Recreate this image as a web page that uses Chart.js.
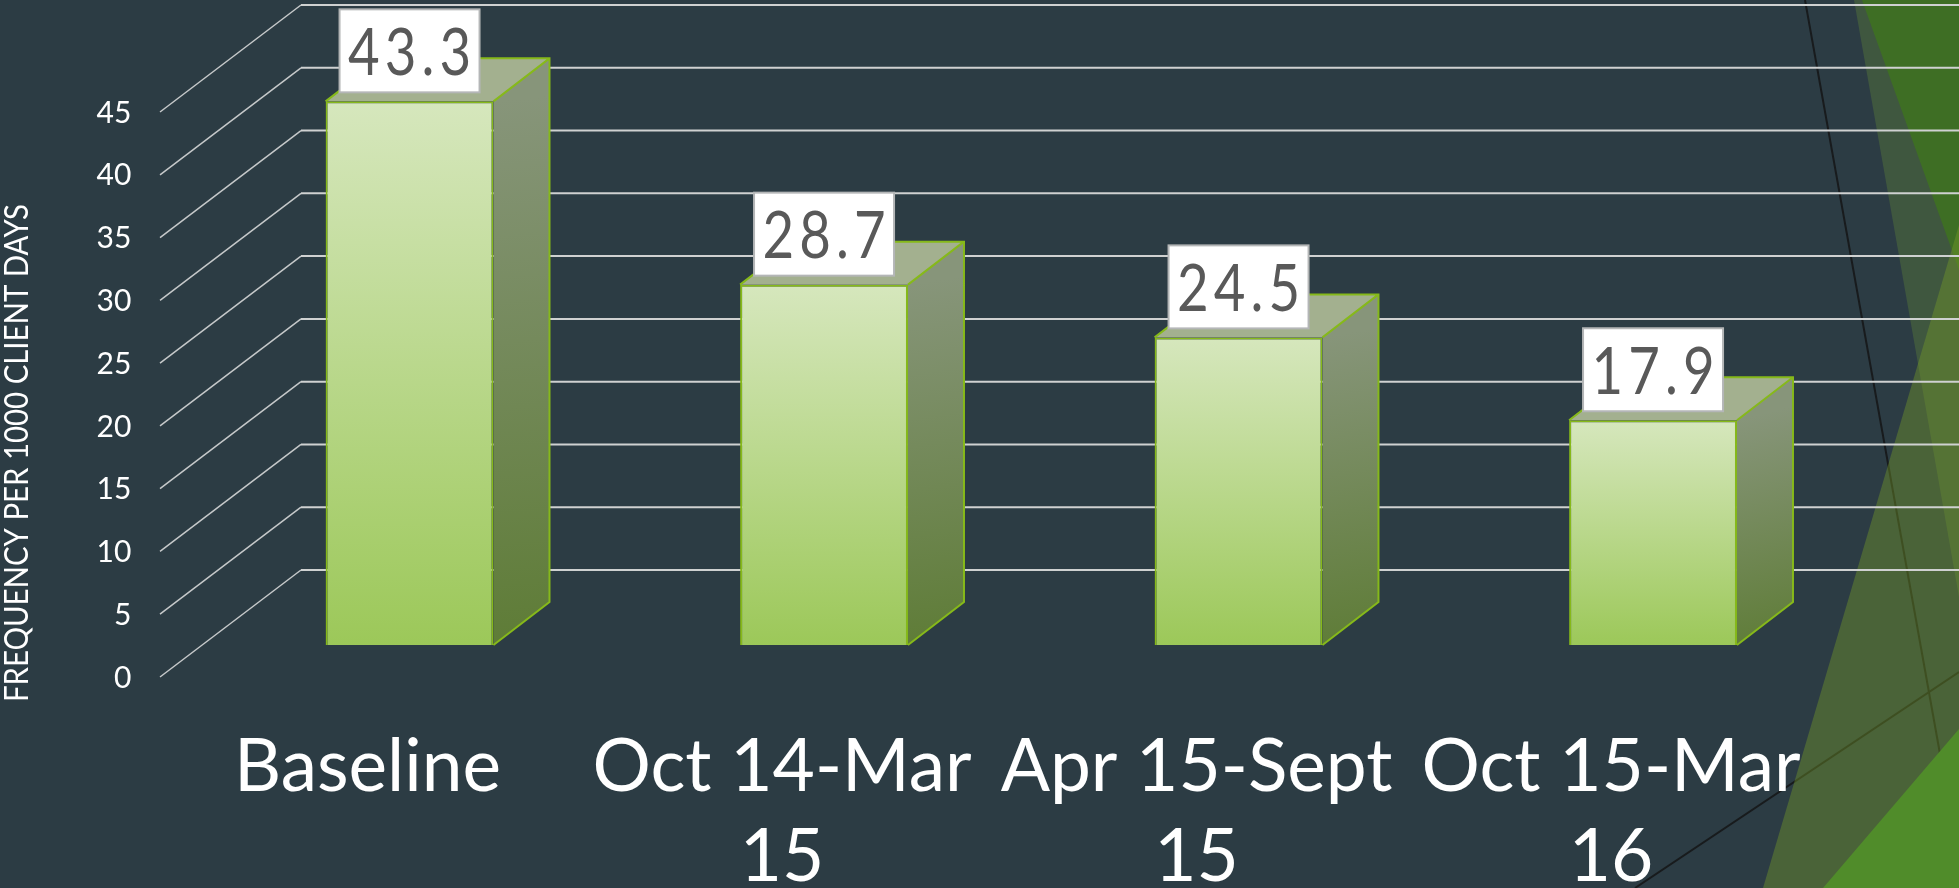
<!DOCTYPE html>
<html>
<head>
<meta charset="utf-8">
<title>Frequency per 1000 client days</title>
<script src="https://cdn.jsdelivr.net/npm/chart.js@4"></script>
<style>
  html, body { margin: 0; padding: 0; background: #2c3c44; overflow: hidden; }
  canvas { display: block; }
</style>
</head>
<body>
<canvas id="barChart" width="1959" height="888"></canvas>
<script>
const categories = ["Baseline", ["Oct 14-Mar", "15"], ["Apr 15-Sept", "15"], ["Oct 15-Mar", "16"]];
const values = [43.3, 28.7, 24.5, 17.9];
const yTicks = [0, 5, 10, 15, 20, 25, 30, 35, 40, 45];
const yTitle = "FREQUENCY PER 1000 CLIENT DAYS";

// depth of the fake 3d box, relative to the plane the bars stand in
const depthX = 56;
const depthY = -43;
const wallFrontX = 160;
const wallBackX = 301;
const wallFrontDy = 32;
const wallBackDy = -75;

function poly(ctx, pts, fill) {
  ctx.beginPath();
  pts.forEach((p, i) => (i ? ctx.lineTo(p[0], p[1]) : ctx.moveTo(p[0], p[1])));
  ctx.closePath();
  ctx.fillStyle = fill;
  ctx.fill();
}

function line(ctx, x1, y1, x2, y2, color, width) {
  ctx.beginPath();
  ctx.moveTo(x1, y1);
  ctx.lineTo(x2, y2);
  ctx.strokeStyle = color;
  ctx.lineWidth = width;
  ctx.stroke();
}

// slide background and the green wedges on the right
const backdrop = {
  id: "backdrop",
  beforeDraw(chart) {
    const ctx = chart.ctx;
    ctx.save();
    ctx.fillStyle = "#2c3c44";
    ctx.fillRect(0, 0, 1959, 888);
    line(ctx, 1805, 0, 1959, 860, "#181b1d", 2);
    line(ctx, 1635, 888, 1959, 672, "#181b1d", 2);
    poly(ctx, [[1854, 0], [1959, 0], [1959, 597]], "rgba(86,120,57,0.45)");
    poly(ctx, [[1862, 0], [1959, 0], [1959, 270]], "rgba(63,118,28,0.75)");
    poly(ctx, [[1763, 888], [1959, 225], [1959, 888]], "rgba(119,157,40,0.4)");
    poly(ctx, [[1823, 888], [1959, 729], [1959, 888]], "#508c2a");
    ctx.restore();
  }
};

// gridlines run along the side wall and the back wall
const walls = {
  id: "walls",
  beforeDatasetsDraw(chart) {
    const ctx = chart.ctx;
    const y = chart.scales.y;
    ctx.save();
    yTicks.forEach((t) => {
      const py = y.getPixelForValue(t);
      line(ctx, wallFrontX, py + wallFrontDy, wallBackX, py + wallBackDy, "#c6c9ca", 1.5);
      line(ctx, wallBackX, py + wallBackDy, 1959, py + wallBackDy, "#cfd1d1", 2);
    });
    ctx.restore();
  },
  afterDraw(chart) {
    const ctx = chart.ctx;
    ctx.save();
    ctx.translate(17, 453);
    ctx.rotate(-Math.PI / 2);
    ctx.scale(0.89, 1);
    ctx.font = "400 33px Lato";
    ctx.fillStyle = "#ffffff";
    ctx.textAlign = "center";
    ctx.textBaseline = "middle";
    ctx.fillText(yTitle, 0, 0);
    ctx.restore();
  }
};

// side and top faces of each bar, then the value boxes
const boxes = {
  id: "boxes",
  afterDatasetsDraw(chart) {
    const ctx = chart.ctx;
    const meta = chart.getDatasetMeta(0);
    ctx.save();
    meta.data.forEach((bar) => {
      const w = bar.width;
      const l = bar.x - w / 2;
      const r = bar.x + w / 2;
      const top = bar.y;
      const bottom = bar.base;

      const side = ctx.createLinearGradient(r, top, r + depthX, bottom);
      side.addColorStop(0, "#87957a");
      side.addColorStop(1, "#5e7c36");
      poly(ctx, [[r, top], [r + depthX, top + depthY], [r + depthX, bottom + depthY], [r, bottom]], side);
      poly(ctx, [[l, top], [l + depthX, top + depthY], [r + depthX, top + depthY], [r, top]], "#a3b08f");

      ctx.beginPath();
      ctx.moveTo(l, top);
      ctx.lineTo(l + depthX, top + depthY);
      ctx.lineTo(r + depthX, top + depthY);
      ctx.lineTo(r + depthX, bottom + depthY);
      ctx.lineTo(r, bottom);
      ctx.moveTo(r, top);
      ctx.lineTo(r + depthX, top + depthY);
      ctx.strokeStyle = "#86b91a";
      ctx.lineWidth = 2;
      ctx.stroke();
    });
    meta.data.forEach((bar, i) => {
      const bw = 140, bh = 83;
      const bx = bar.x - bw / 2;
      const by = bar.y - 9 - bh;
      ctx.fillStyle = "#ffffff";
      ctx.fillRect(bx, by, bw, bh);
      ctx.strokeStyle = "#b4b6b7";
      ctx.lineWidth = 2;
      ctx.strokeRect(bx, by, bw, bh);
      ctx.save();
      ctx.translate(bar.x, by + bh / 2 + 3);
      ctx.scale(0.84, 1);
      ctx.fillStyle = "#595959";
      ctx.font = "400 65px Lato";
      ctx.letterSpacing = "6px";
      ctx.textAlign = "center";
      ctx.textBaseline = "middle";
      ctx.fillText(values[i].toFixed(1), 3, 0);
      ctx.restore();
    });
    ctx.restore();
  }
};

function frontFill(context) {
  const chart = context.chart;
  const y = chart.scales.y;
  const top = y ? y.getPixelForValue(values[context.dataIndex]) : NaN;
  const bottom = y ? y.getPixelForValue(0) : NaN;
  // scales have no size yet on the very first resolve
  if (!isFinite(top) || !isFinite(bottom)) return "#9cc859";
  const g = chart.ctx.createLinearGradient(0, top, 0, bottom);
  g.addColorStop(0, "#d6e7bd");
  g.addColorStop(1, "#9cc859");
  return g;
}

new Chart(document.getElementById("barChart"), {
  type: "bar",
  data: {
    labels: categories,
    datasets: [{
      data: values,
      backgroundColor: frontFill,
      borderColor: "#86b91a",
      borderWidth: 2,
      categoryPercentage: 1,
      barPercentage: 0.405
    }]
  },
  options: {
    responsive: false,
    animation: false,
    devicePixelRatio: 1,
    layout: { padding: { top: 80, right: 98.7, left: 0, bottom: 0 } },
    plugins: { legend: { display: false }, tooltip: { enabled: false } },
    scales: {
      x: {
        grid: { display: false, drawTicks: false },
        border: { display: false },
        afterFit(scale) { scale.height = 243; scale.paddingLeft = 0; scale.paddingRight = 0; },
        ticks: {
          color: "#ffffff",
          font: { family: "Lato", size: 73, lineHeight: 1.225 },
          padding: 78,
          labelOffset: -42,
          maxRotation: 0,
          autoSkip: false
        }
      },
      y: {
        min: 0,
        max: 45,
        grid: { display: false, drawTicks: false },
        border: { display: false },
        afterFit(scale) { scale.width = 202.3; scale.paddingTop = 0; scale.paddingBottom = 0; },
        afterBuildTicks(scale) { scale.ticks = yTicks.map((v) => ({ value: v })); },
        ticks: {
          color: "#ffffff",
          font: { family: "Lato", size: 30 },
          padding: 71,
          labelOffset: 33
        }
      }
    }
  },
  plugins: [backdrop, walls, boxes]
});
</script>
</body>
</html>
